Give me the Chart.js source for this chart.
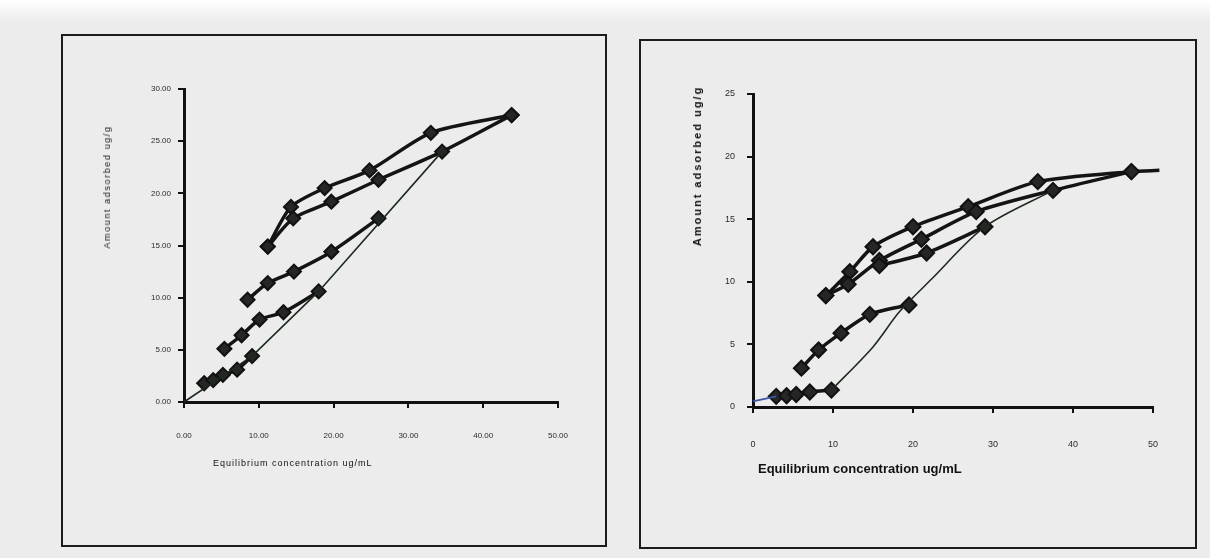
<!DOCTYPE html>
<html>
<head>
<meta charset="utf-8">
<script src="https://cdn.jsdelivr.net/npm/chart.js@4"></script>
<style>
  body { margin: 0; width: 1210px; height: 558px; position: relative; overflow: hidden;
         background: #ececec; font-family: "Liberation Sans", Arial, sans-serif; }
  .top-strip { position: absolute; left: 0; top: 0; width: 1210px; height: 22px;
               background: linear-gradient(#ffffff, #ececec); }
  .frame { position: absolute; box-sizing: border-box; border: 2px solid #1c1c1c; }
  canvas { position: absolute; }
  .title { position: absolute; white-space: nowrap; color: #111; }
  .ytitle { transform: translate(-50%, -50%) rotate(-90deg); }
</style>
</head>
<body>
<div class="top-strip"></div>

<div class="frame" style="left:61px; top:34px; width:546px; height:513px;"></div>
<canvas id="leftChart" width="544" height="511" style="left:62px; top:35px;"></canvas>
<div class="title ytitle" style="left:107px; top:187px; font-size:9px; letter-spacing:1.6px;">Amount adsorbed ug/g</div>
<div class="title" style="left:213px; top:458px; font-size:9px; letter-spacing:1px;">Equilibrium concentration ug/mL</div>

<div class="frame" style="left:639px; top:39px; width:558px; height:510px;"></div>
<canvas id="rightChart" width="556" height="508" style="left:640px; top:40px;"></canvas>
<div class="title ytitle" style="left:697px; top:166px; font-size:11px; font-weight:bold; letter-spacing:2px;">Amount adsorbed ug/g</div>
<div class="title" style="left:758px; top:461px; font-size:13px; font-weight:bold;">Equilibrium concentration ug/mL</div>

<script>
// ---- left chart data ----
const leftXTicks = [0, 10, 20, 30, 40, 50];
const leftYTicks = [0, 5, 10, 15, 20, 25, 30];

const leftA_x = [11.2, 14.3, 18.8, 24.8, 33.0, 43.8];
const leftA_y = [14.9, 18.7, 20.5, 22.2, 25.8, 27.5];
const leftB_x = [11.2, 14.6, 19.7, 26.0, 34.5, 43.8];
const leftB_y = [14.9, 17.6, 19.2, 21.3, 24.0, 27.5];
const leftC_x = [8.5, 11.2, 14.7, 19.7, 26.0];
const leftC_y = [9.8, 11.4, 12.5, 14.4, 17.6];
const leftD_x = [5.4, 7.7, 10.1, 13.3, 18.0];
const leftD_y = [5.1, 6.4, 7.9, 8.6, 10.6];
const leftE_x = [2.7, 3.9, 5.2, 7.1, 9.1];
const leftE_y = [1.8, 2.1, 2.6, 3.1, 4.4];
// thin line from the origin
const leftThin_x = [0, 9.1, 18.0, 34.5];
const leftThin_y = [0, 4.4, 10.6, 24.0];

// ---- right chart data ----
const rightXTicks = [0, 10, 20, 30, 40, 50];
const rightYTicks = [0, 5, 10, 15, 20, 25];

const right1_x = [9.1, 12.1, 15.0, 20.0, 26.9, 35.6, 47.3, 50.8];
const right1_y = [8.9, 10.8, 12.8, 14.4, 16.0, 18.0, 18.8, 18.9];
const right2_x = [9.1, 11.9, 15.8, 21.05, 27.9, 37.5, 47.3];
const right2_y = [8.9, 9.8, 11.7, 13.4, 15.6, 17.3, 18.8];
const right3_x = [15.8, 21.7, 29.0];
const right3_y = [11.3, 12.3, 14.4];
const right4_x = [2.9, 4.2, 5.4, 7.1, 9.8];
const right4_y = [0.85, 0.9, 1.0, 1.2, 1.35];
const right5_x = [6.05, 8.2, 11.0, 14.6, 19.5];
const right5_y = [3.1, 4.55, 5.9, 7.4, 8.15];
// thin curve and the short start line
const rightThin_x = [9.8, 15.0, 18.3, 22.3, 29.0, 37.5];
const rightThin_y = [1.35, 4.8, 7.6, 10.2, 14.4, 17.3];
const rightStart_x = [0, 2.9];
const rightStart_y = [0.45, 0.85];

function pts(xs, ys) {
  return xs.map((x, i) => ({ x: x, y: ys[i] }));
}

function marked(xs, ys, r, hideLast) {
  return {
    data: pts(xs, ys),
    showLine: true,
    borderColor: '#141414',
    borderWidth: 3.5,
    tension: 0.25,
    pointStyle: 'rectRot',
    pointRadius: ctx => (hideLast && ctx.dataIndex === xs.length - 1) ? 0 : r,
    pointBackgroundColor: '#262626',
    pointBorderColor: '#111',
    pointBorderWidth: 2,
    clip: false
  };
}

function thin(xs, ys, color, width, tension) {
  return {
    data: pts(xs, ys),
    showLine: true,
    borderColor: color,
    borderWidth: width,
    tension: tension,
    pointRadius: 0,
    clip: false
  };
}

function axis(min, max, ticks, fit, fontSize, pad, fmt) {
  return {
    type: 'linear',
    min: min,
    max: max,
    afterBuildTicks: s => { s.ticks = ticks.map(v => ({ value: v })); },
    afterFit: fit,
    grid: { display: true, drawOnChartArea: false, drawTicks: true, tickLength: 6, color: '#111', lineWidth: 2 },
    border: { display: true, color: '#111', width: 3 },
    ticks: {
      padding: pad, color: '#2a2a2a', autoSkip: false, maxRotation: 0,
      font: { family: 'Liberation Sans', size: fontSize },
      callback: fmt
    }
  };
}

function makeChart(id, datasets, padding, xAxis, yAxis) {
  const ctx = document.getElementById(id).getContext('2d');
  return new Chart(ctx, {
    type: 'scatter',
    data: { datasets: datasets },
    options: {
      responsive: false,
      animation: false,
      layout: { padding: padding },
      plugins: { legend: { display: false }, tooltip: { enabled: false } },
      scales: { x: xAxis, y: yAxis }
    }
  });
}

// left chart
makeChart('leftChart', [
  thin(leftThin_x, leftThin_y, '#1d2b1d', 1.6, 0),
  marked(leftE_x, leftE_y, 7),
  marked(leftD_x, leftD_y, 7),
  marked(leftC_x, leftC_y, 7),
  marked(leftB_x, leftB_y, 7),
  marked(leftA_x, leftA_y, 7)
],
  { left: 0, right: 48, top: 54, bottom: 0 },
  axis(0, 50, leftXTicks, s => { s.height = 144; }, 8, 23, v => v.toFixed(2)),
  axis(0, 30, leftYTicks, s => { s.width = 122; }, 8, 7, v => v.toFixed(2))
);

// right chart
makeChart('rightChart', [
  thin(rightStart_x, rightStart_y, '#3b56a8', 2, 0),
  thin(rightThin_x, rightThin_y, '#1d2b1d', 1.6, 0.3),
  marked(right4_x, right4_y, 7.5),
  marked(right5_x, right5_y, 7.5),
  marked(right3_x, right3_y, 7.5),
  marked(right2_x, right2_y, 7.5),
  marked(right1_x, right1_y, 7.5, true)
],
  { left: 0, right: 43, top: 54, bottom: 0 },
  axis(0, 50, rightXTicks, s => { s.height = 141; }, 9, 26, v => String(v)),
  axis(0, 25, rightYTicks, s => { s.width = 113; }, 9, 12, v => String(v))
);
</script>
</body>
</html>
